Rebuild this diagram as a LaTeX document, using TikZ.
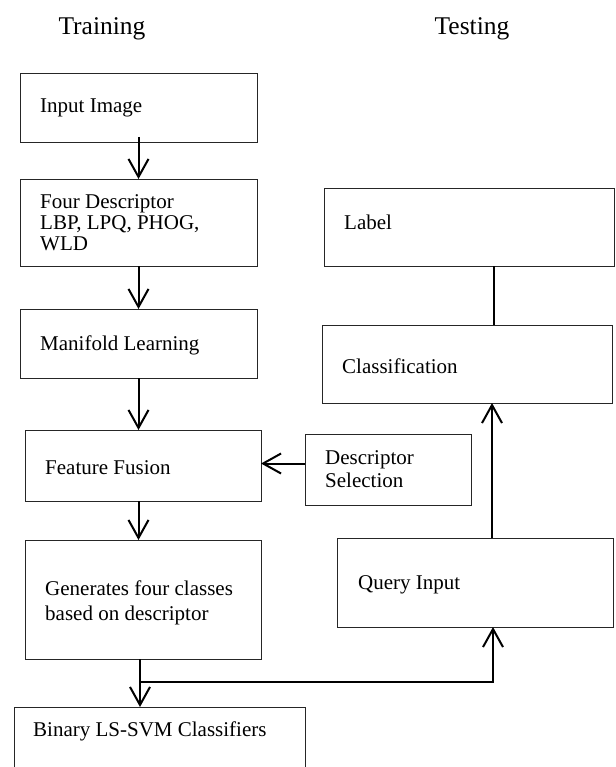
\documentclass[tikz,border=0pt]{standalone}
\usepackage{fontspec}
\setmainfont{Liberation Serif}
\usetikzlibrary{arrows.meta}
\begin{document}
\begin{tikzpicture}[x=1pt,y=-1pt,
 box/.style={draw=black!85, line width=0.8pt, inner sep=0pt, outer sep=0pt, anchor=north west},
 txt/.style={anchor=west, align=left, inner sep=0pt, font=\fontsize{21}{22}\selectfont},
 ttl/.style={font=\fontsize{25.5}{28}\selectfont, inner sep=0pt},
 arr/.style={line width=2pt, -{Straight Barb[length=18pt,width=20pt,line width=2pt]}},
 ln/.style={line width=2pt}]
\useasboundingbox (0,0) rectangle (615,767);
\clip (0,0) rectangle (615,767);
% titles
\node[ttl] (train) at (102,29) {Training};
\node[ttl] (test) at (472,29) {Testing};
% training boxes
\node[box, minimum width=237pt, minimum height=69pt] (in) at (20,73) {};
\node[box, minimum width=237pt, minimum height=87pt] (four) at (20,179) {};
\node[box, minimum width=237pt, minimum height=69pt] (man) at (20,309) {};
\node[box, minimum width=236pt, minimum height=71pt] (fus) at (25,430) {};
\node[box, minimum width=236pt, minimum height=119pt] (gen) at (25,540) {};
\node[box, minimum width=291pt, minimum height=90pt] (bin) at (14,707) {};
% testing boxes
\node[box, minimum width=290pt, minimum height=78pt] (lab) at (324,188) {};
\node[box, minimum width=290pt, minimum height=78pt] (cls) at (322,325) {};
\node[box, minimum width=166pt, minimum height=71pt] (ds) at (305,434) {};
\node[box, minimum width=276pt, minimum height=89pt] (q) at (337,538) {};
% texts
\node[txt] (tin) at ([xshift=20pt]in.west) {Input Image};
\node[txt, font=\fontsize{21}{21}\selectfont] (tfour) at ([xshift=20pt]four.west) {Four Descriptor\\LBP, LPQ, PHOG,\\WLD};
\node[txt] (tman) at ([xshift=20pt,yshift=-2pt]man.west) {Manifold Learning};
\node[txt] (tfus) at ([xshift=20pt,yshift=-2pt]fus.west) {Feature Fusion};
\node[txt, font=\fontsize{21}{25}\selectfont] (tgen) at ([xshift=20pt,yshift=-3pt]gen.west) {Generates four classes\\based on descriptor};
\node[txt] (tbin) at (33,731) {Binary LS-SVM Classifiers};
\node[txt] (tlab) at ([xshift=20pt,yshift=5pt]lab.west) {Label};
\node[txt] (tcls) at ([xshift=20pt,yshift=-2pt]cls.west) {Classification};
\node[txt, font=\fontsize{21}{23}\selectfont] (tds) at ([xshift=20pt]ds.west) {Descriptor\\Selection};
\node[txt] (tq) at ([xshift=21pt,yshift=-2pt]q.west) {Query Input};
% connectors
\draw[arr] ([yshift=5pt]in.south) -- (four.north);
\draw[arr] (four.south) -- (man.north);
\draw[arr] (man.south) -- (man.south |- fus.north);
\draw[arr] (man.south |- fus.south) -- (man.south |- gen.north);
\coordinate (br) at (140,682);
\draw[arr] (br |- gen.south) -- (br |- bin.north);
\draw[arr] (br) -| ([xshift=18pt]q.south);
\draw[arr] ([xshift=17pt]q.north) -- ([xshift=25pt]cls.south);
\draw[ln] ([xshift=25pt]lab.south) -- ([xshift=27pt]cls.north);
\draw[arr] ([yshift=6pt]ds.west) -- ([yshift=6pt]ds.west -| fus.east);
\end{tikzpicture}
\end{document}
